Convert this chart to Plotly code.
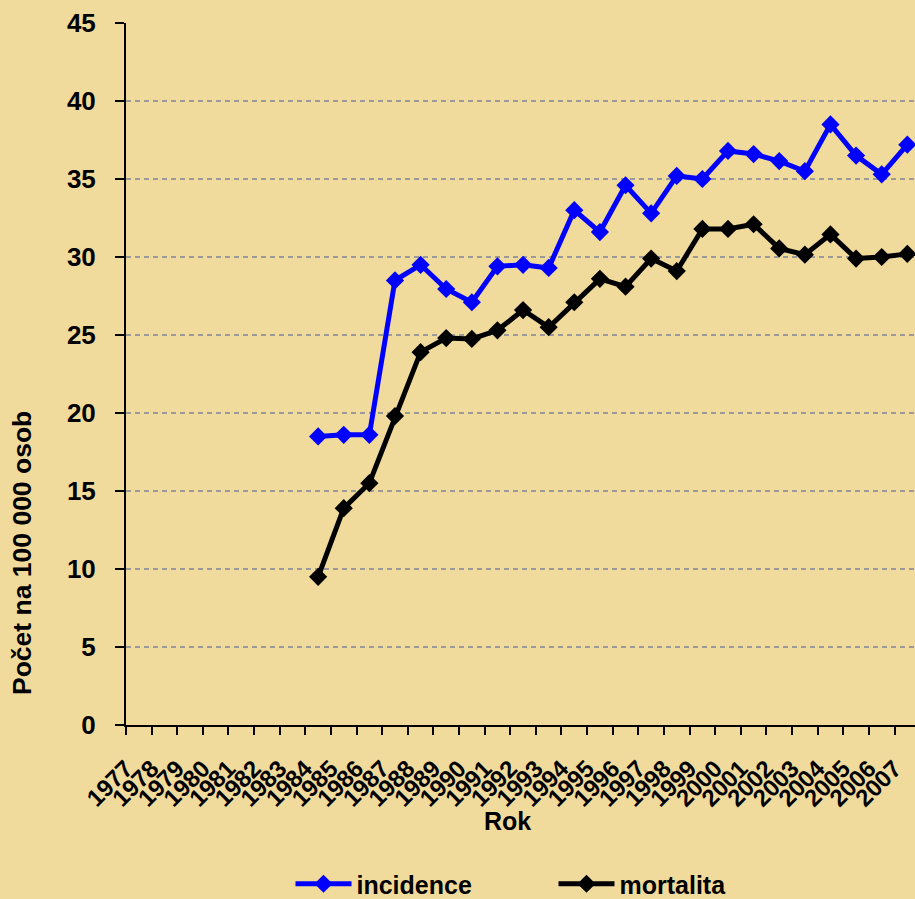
import plotly.graph_objects as go

years = [str(y) for y in range(1977, 2008)]
data_years = [str(y) for y in range(1984, 2008)]
incidence = [18.5, 18.6, 18.6, 28.5, 29.5, 27.95, 27.1, 29.4, 29.5, 29.3, 33.0, 31.6,
             34.6, 32.8, 35.2, 35.0, 36.8, 36.6, 36.15, 35.5, 38.5, 36.5, 35.3, 37.2]
mortalita = [9.5, 13.9, 15.5, 19.8, 23.9, 24.8, 24.75, 25.3, 26.6, 25.5, 27.1, 28.6,
             28.1, 29.9, 29.1, 31.8, 31.8, 32.1, 30.55, 30.15, 31.45, 29.9, 30.0, 30.2]

# positions on a numeric axis: category index
xpos = [years.index(y) for y in data_years]
tickpos = [i - 0.5 for i in range(len(years))]

BG = "#F1DB9C"
FONT = "Liberation Sans, Arial, sans-serif"
W, H = 915, 899
ML, MR, MT, MB = 126, 0, 23, 174
pw = W - ML - MR
ph = H - MT - MB


def px_to_paper(x, y):
    return (x - ML) / pw, (H - MB - y) / ph


fig = go.Figure()
fig.add_trace(go.Scatter(x=xpos, y=incidence, name="incidence", mode="lines+markers",
                         line=dict(color="#0000FF", width=5),
                         marker=dict(symbol="diamond", size=14, color="#0000FF"),
                         cliponaxis=False))
fig.add_trace(go.Scatter(x=xpos, y=mortalita, name="mortalita", mode="lines+markers",
                         line=dict(color="#000000", width=5),
                         marker=dict(symbol="diamond", size=14, color="#000000"),
                         cliponaxis=False))

lx, ly = px_to_paper(290.5, 884)
fig.update_layout(
    width=W, height=H,
    paper_bgcolor=BG, plot_bgcolor=BG,
    margin=dict(l=ML, r=MR, t=MT, b=MB, autoexpand=False),
    font=dict(family=FONT, color="black"),
    showlegend=True,
    legend=dict(orientation="h", x=lx, y=ly, xanchor="left", yanchor="middle",
                font=dict(size=25, family=FONT, color="black", weight="bold"),
                entrywidth=192, entrywidthmode="pixels", itemwidth=56,
                bgcolor="rgba(0,0,0,0)"),
)
fig.update_xaxes(
    range=[-0.5, 30.3], automargin=False,
    tickmode="array", tickvals=tickpos, ticktext=years, tickangle=-45,
    tickfont=dict(size=24, family=FONT, color="black", weight="bold"),
    ticklabelstandoff=10,
    showline=True, linecolor="black", linewidth=2,
    ticks="outside", ticklen=8, tickcolor="black", tickwidth=2,
    showgrid=False, zeroline=False,
)
fig.update_yaxes(
    range=[0, 45], automargin=False, tickmode="array", tickvals=list(range(0, 50, 5)),
    tickfont=dict(size=26, family=FONT, color="black", weight="bold"),
    ticklabelstandoff=14,
    showline=True, linecolor="black", linewidth=2,
    ticks="outside", ticklen=9, tickcolor="black", tickwidth=2,
    showgrid=True, gridcolor="#9A9A9A", gridwidth=1.5, griddash="5px,4px",
    zeroline=False,
)
tx, ty = px_to_paper(22, 553)
fig.add_annotation(text="Počet na 100 000 osob", x=tx, y=ty, xref="paper", yref="paper",
                   textangle=-90, showarrow=False, xanchor="center", yanchor="middle",
                   font=dict(size=26.5, family=FONT, color="black", weight="bold"))
rx, ry = px_to_paper(507, 821)
fig.add_annotation(text="Rok", x=rx, y=ry, xref="paper", yref="paper",
                   showarrow=False, xanchor="center", yanchor="middle",
                   font=dict(size=25, family=FONT, color="black", weight="bold"))

fig.write_html("out.html", config={"responsive": False, "displayModeBar": False},
               post_script="document.body.style.margin='0';document.body.style.overflow='hidden';")
